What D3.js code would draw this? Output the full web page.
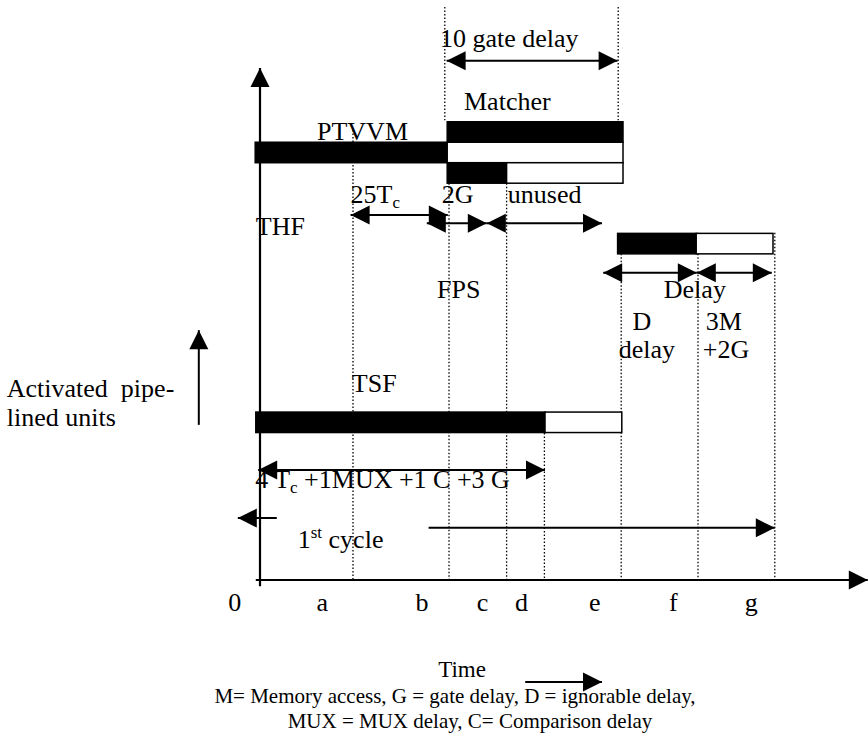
<!DOCTYPE html>
<html><head><meta charset="utf-8">
<script src="https://cdn.jsdelivr.net/npm/d3@7"></script>
<style>
html,body{margin:0;padding:0;background:#fff;}
svg{display:block;font-family:"Liberation Serif","Times New Roman",serif;}
text{white-space:pre;fill:#000;}
</style></head><body>
<svg id="chart" width="868" height="734"></svg>
<script>
// ---- data: time (horizontal units) and level (vertical units) ----
const tickLabels    = ['0', 'a', 'b', 'c', 'd', 'e', 'f', 'g'];
const tickTimes     = [-0.43, 1.03, 2.69, 3.70, 4.35, 5.57, 6.88, 8.18];

// dotted phase boundaries
const boundaryTimes   = [1.55, 3.15, 4.11, 4.74, 6.02, 7.30, 8.58, 3.08, 5.97];
const boundaryTops    = [8.79, 7.75, 7.75, 2.87, 6.37, 6.78, 6.78, 11.19, 11.19];
const boundaryBottoms = [0, 0, 0, 0, 0, 0, 0, 8.98, 8.98];

// activity bars
const barUnits   = ['PTVVM', 'Matcher', 'Matcher', 'FPS', 'FPS', 'THF', 'THF', 'TSF', 'TSF'];
const barStarts  = [-0.08, 3.12, 3.12, 3.12, 4.11, 5.96, 7.27, -0.07, 4.75];
const barEnds    = [3.12, 6.05, 6.05, 4.11, 6.05, 7.27, 8.55, 4.75, 6.03];
const barLevels  = [8.35, 8.75, 8.35, 7.95, 7.95, 6.57, 6.57, 3.08, 3.08];
const barActive  = [true, true, false, true, false, true, false, true, false];

// horizontal duration arrows
const arrowStarts = [3.11, 1.51, 2.78, 3.78, 5.72, 7.28, -0.03, 0.28, 2.81, 4.42];
const arrowEnds   = [5.96, 3.13, 3.78, 5.70, 7.28, 8.53, 4.75, -0.37, 8.58, 5.70];
const arrowLevels = [10.14, 7.13, 6.97, 6.97, 6.00, 6.00, 2.15, 1.21, 1.02, -1.99];
const arrowBoth   = [true, true, true, true, true, true, true, false, false, false];

// labels (_{..} subscript, ^{..} superscript)
const labelTexts  = ['10 gate delay', 'Matcher', 'PTVVM', '25T_{c}', '2G', 'unused', 'THF',
                     'FPS', 'Delay', 'D', 'delay', '3M', '+2G', 'TSF',
                     '4 T_{c} +1MUX +1 C +3 G', '1^{st} cycle',
                     'Activated  pipe-', 'lined units'];
const labelTimes  = [3.00, 3.40, 0.95, 1.51, 3.03, 4.13, -0.07,
                     2.95, 6.73, 6.21, 5.98, 7.43, 7.38, 1.53,
                     -0.08, 0.63, -4.22, -4.22];
const labelLevels = [10.41, 9.18, 8.59, 7.36, 7.36, 7.36, 6.74,
                     5.51, 5.51, 4.88, 4.34, 4.88, 4.34, 3.67,
                     1.80, 0.63, 3.57, 3.01];

const timeTitle   = 'Time';
const timeTitlePos = [2.97, -1.90];
const footnoteLines = ['M= Memory access, G = gate delay, D = ignorable delay,',
                       'MUX = MUX delay, C= Comparison delay'];
const footnoteTimes  = [3.25, 3.50];
const footnoteLevels = [-2.41, -2.89];

// ---- scales ----
const W = 868, H = 734;
const x = d3.scaleLinear().domain([0, 10]).range([260, 860]);
const y = d3.scaleLinear().domain([0, 10]).range([580, 68]);
const svg = d3.select('#chart');
const BAR_H = Math.abs(y(0.4) - y(0));
const HEAD_L = 19, HEAD_W = 9.5;

// dotted boundaries
svg.append('g').selectAll('line').data(boundaryTimes).join('line')
  .attr('x1', d => x(d)).attr('x2', d => x(d))
  .attr('y1', (d, i) => y(boundaryTops[i])).attr('y2', (d, i) => y(boundaryBottoms[i]))
  .attr('stroke', '#000').attr('stroke-width', 1.3).attr('stroke-dasharray', '1.5 2');

// bars
svg.append('g').selectAll('rect').data(barStarts).join('rect')
  .attr('x', (d, i) => x(d)).attr('width', (d, i) => x(barEnds[i]) - x(d))
  .attr('y', (d, i) => y(barLevels[i]) - BAR_H / 2).attr('height', BAR_H)
  .attr('fill', (d, i) => barActive[i] ? '#000' : '#fff')
  .attr('stroke', '#000').attr('stroke-width', 1.5);

// labels
function richText(sel, str, size) {
  const parts = str.split(/(_\{[^}]*\}|\^\{[^}]*\})/).filter(s => s.length);
  let shift = 0;
  parts.forEach(p => {
    const t = sel.append('tspan');
    if (p.startsWith('_{')) {
      t.text(p.slice(2, -1)).attr('font-size', size * 0.65).attr('dy', 5 - shift); shift = 5;
    } else if (p.startsWith('^{')) {
      t.text(p.slice(2, -1)).attr('font-size', size * 0.65).attr('dy', -10 - shift); shift = -10;
    } else {
      t.text(p).attr('dy', -shift); shift = 0;
    }
  });
}
const lg = svg.append('g').attr('font-size', 26);
labelTexts.forEach((s, i) => {
  const t = lg.append('text').attr('x', x(labelTimes[i])).attr('y', y(labelLevels[i]));
  richText(t, s, 26);
});

// arrows
function arrowHead(g, tipX, tipY, dir) { // dir: 'left','right','up'
  let pts;
  if (dir === 'right') pts = [[tipX, tipY], [tipX - HEAD_L, tipY - HEAD_W], [tipX - HEAD_L, tipY + HEAD_W]];
  else if (dir === 'left') pts = [[tipX, tipY], [tipX + HEAD_L, tipY - HEAD_W], [tipX + HEAD_L, tipY + HEAD_W]];
  else pts = [[tipX, tipY], [tipX - HEAD_W, tipY + HEAD_L], [tipX + HEAD_W, tipY + HEAD_L]];
  g.append('path').attr('d', d3.line()(pts) + 'Z').attr('fill', '#000');
}
const ag = svg.append('g');
arrowStarts.forEach((s, i) => {
  const x0 = x(s), x1 = x(arrowEnds[i]), yy = y(arrowLevels[i]);
  ag.append('line').attr('x1', x0).attr('x2', x1).attr('y1', yy).attr('y2', yy)
    .attr('stroke', '#000').attr('stroke-width', 2);
  arrowHead(ag, x1, yy, x1 > x0 ? 'right' : 'left');
  if (arrowBoth[i]) arrowHead(ag, x0, yy, x1 > x0 ? 'left' : 'right');
});

// axes
const axG = svg.append('g');
axG.append('line').attr('x1', x(-0.07)).attr('x2', x(10.13)).attr('y1', y(0)).attr('y2', y(0))
  .attr('stroke', '#000').attr('stroke-width', 2.2);
arrowHead(axG, x(10.13), y(0), 'right');
axG.append('line').attr('x1', x(0)).attr('x2', x(0)).attr('y1', y(-0.12)).attr('y2', y(10))
  .attr('stroke', '#000').attr('stroke-width', 2.2);
arrowHead(axG, x(0), y(10), 'up');

// tick labels through d3 axis
const xAxis = d3.axisBottom(x).tickValues(tickTimes).tickFormat((d, i) => tickLabels[i]).tickSize(0).tickPadding(0);
const xg = svg.append('g').attr('transform', `translate(0,${y(0)})`).call(xAxis);
xg.select('.domain').remove();
xg.selectAll('text').attr('font-family', '"Liberation Serif","Times New Roman",serif')
  .attr('font-size', 26).attr('fill', '#000').attr('dy', null).attr('y', 31);

// left vertical arrow ("Activated pipelined units")
const vx = x(-1.02);
ag.append('line').attr('x1', vx).attr('x2', vx).attr('y1', y(3.03)).attr('y2', y(4.88))
  .attr('stroke', '#000').attr('stroke-width', 2);
arrowHead(ag, vx, y(4.88), 'up');

// Time title
svg.append('text').attr('x', x(timeTitlePos[0])).attr('y', y(timeTitlePos[1]))
  .attr('font-size', 23).text(timeTitle);

// footnote
svg.append('g').attr('font-size', 21).attr('text-anchor', 'middle')
  .selectAll('text').data(footnoteLines).join('text')
  .attr('x', (d, i) => x(footnoteTimes[i])).attr('y', (d, i) => y(footnoteLevels[i]))
  .text(d => d);
</script>
</body></html>
